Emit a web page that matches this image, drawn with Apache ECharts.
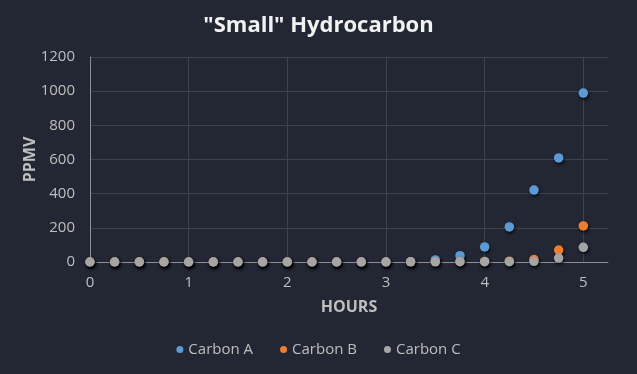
<!DOCTYPE html>
<html><head><meta charset="utf-8">
<script src="https://cdn.jsdelivr.net/npm/echarts@6/dist/echarts.min.js"></script>
<style>html,body{margin:0;padding:0;background:#222733;}#c{width:637px;height:374px;}</style>
</head><body><div id="c"></div>
<script>
var hours = [0,0.25,0.5,0.75,1,1.25,1.5,1.75,2,2.25,2.5,2.75,3,3.25,3.5,3.75,4,4.25,4.5,4.75,5];
var carbonA = [0,0,0,0,0,0,0,0,0,0,0,0,0,2,12,37,88,205,421,609,989];
var carbonB = [0,0,1,1,0,0,0,0,0,0,0,0,0,1,2,3,3,5,15,70,211];
var carbonC = [0,0,0,0,0,0,0,0,0,0,0,0,0,1,1,2,2,2,4,23,86];
var yTicks = [0,200,400,600,800,1000,1200];
var xTicks = [0,1,2,3,4,5];

function pairs(vals){ return hours.map(function(h,i){ return [h, vals[i]]; }); }
var font = '"Open Sans", "Noto Sans", sans-serif';
function mk(name, color, vals){
  return {
    name: name, type: 'scatter', data: pairs(vals), symbolSize: 9.5,
    itemStyle: { color: color, opacity: 1, shadowBlur: 3, shadowColor: 'rgba(0,0,0,0.7)', shadowOffsetX: 1, shadowOffsetY: 2 }
  };
}
var chart = echarts.init(document.getElementById('c'));
chart.setOption({
  backgroundColor: '#222733',
  animation: false,
  title: { text: '"Small" Hydrocarbon', left: 'center', top: 10,
    textStyle: { color: '#F2F2F2', fontSize: 22, fontWeight: 'bold', fontFamily: font } },
  grid: { left: 90, right: 29, top: 57, bottom: 112 },
  legend: { bottom: 12, left: 'center', icon: 'circle', itemWidth: 7, itemHeight: 7, itemGap: 27,
    textStyle: { color: '#BFBFBF', fontSize: 15, fontFamily: font } },
  xAxis: { type: 'value', min: 0, max: 5.25, interval: 1,
    name: 'HOURS', nameLocation: 'middle', nameGap: 37, nameMoveOverlap: false,
    nameTextStyle: { color: '#BFBFBF', fontSize: 16, fontWeight: 'bold', fontFamily: font },
    axisLine: { show: true, lineStyle: { color: '#8C8F96', width: 1 } },
    axisTick: { show: false },
    axisLabel: { color: '#BFBFBF', fontSize: 15, fontFamily: font, margin: 13, showMaxLabel: false,
      formatter: function(v){ return xTicks.indexOf(v) >= 0 ? String(v) : ''; } },
    splitLine: { show: true, showMaxLine: false, lineStyle: { color: '#3D4250', width: 1 } }
  },
  yAxis: { type: 'value', min: 0, max: 1200, interval: 200,
    name: 'PPMV', nameLocation: 'middle', nameGap: 52, nameRotate: 90, nameMoveOverlap: false,
    nameTextStyle: { color: '#BFBFBF', fontSize: 16, fontWeight: 'bold', fontFamily: font },
    axisLine: { show: true, lineStyle: { color: '#8C8F96', width: 1 } },
    axisTick: { show: false },
    axisLabel: { color: '#BFBFBF', fontSize: 15, fontFamily: font, margin: 15,
      formatter: function(v){ return yTicks.indexOf(v) >= 0 ? String(v) : ''; } },
    splitLine: { show: true, lineStyle: { color: '#3D4250', width: 1 } }
  },
  series: [ mk('Carbon A', '#5B9BD5', carbonA), mk('Carbon B', '#ED7D31', carbonB), mk('Carbon C', '#A5A5A5', carbonC) ]
});
</script></body></html>
